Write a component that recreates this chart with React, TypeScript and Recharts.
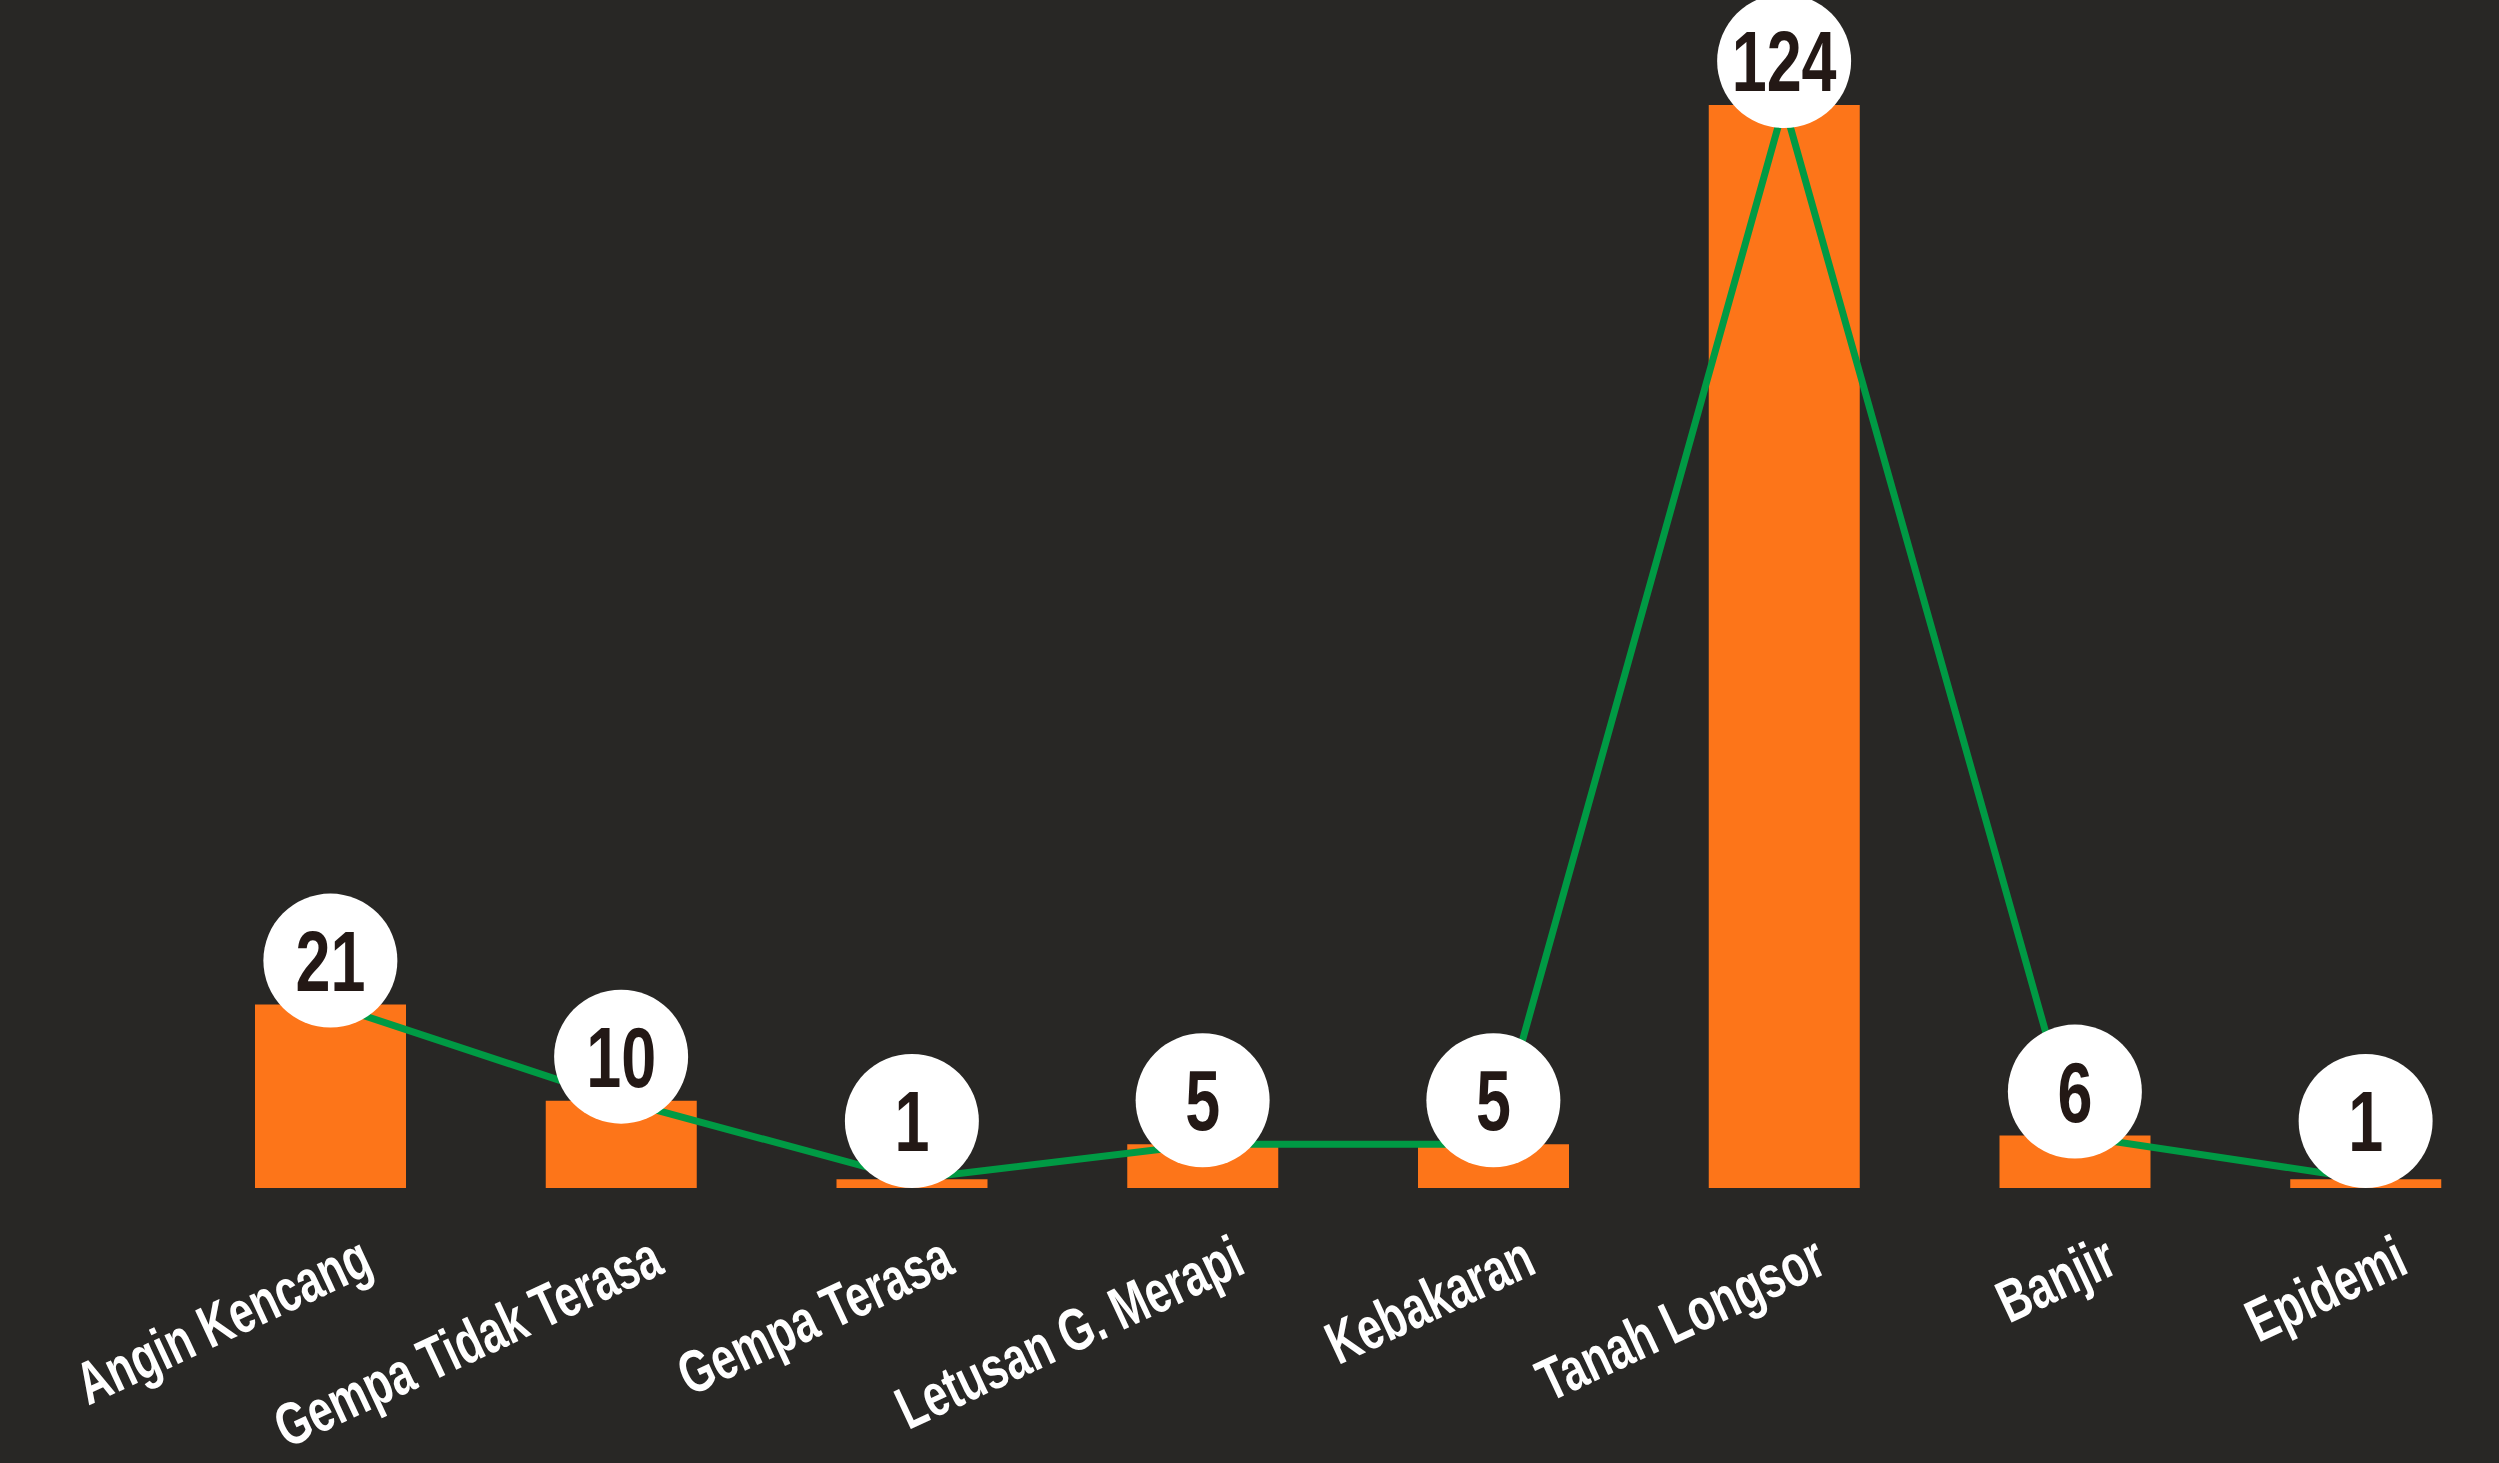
import { ComposedChart, Bar, Line, XAxis, YAxis, LabelList } from 'recharts';

const categories = [
  'Angin Kencang',
  'Gempa Tidak Terasa',
  'Gempa Terasa',
  'Letusan G. Merapi',
  'Kebakaran',
  'Tanah Longsor',
  'Banjir',
  'Epidemi',
];
const counts = [21, 10, 1, 5, 5, 124, 6, 1];

const data = categories.map((name, i) => ({ name, value: counts[i] }));

const W = 2499;
const H = 1463;
const AXIS_H = 275;
const PLOT_BOTTOM = H - AXIS_H;
const BUBBLE_R = 67;

const BG = '#282725';
const ORANGE = '#fd7519';
const GREEN = '#009a44';
// no narrow face installed, so the text is squeezed with scale()
const FONT = "'Liberation Sans', Arial, sans-serif";

function Bubble(props: any) {
  const { x, y, value } = props;
  if (x == null || y == null) return null;
  // sit above the point, but never drop below the baseline
  const cy = Math.min(y - 44, PLOT_BOTTOM - BUBBLE_R);
  return (
    <g>
      <circle cx={x} cy={cy} r={BUBBLE_R} fill="#fff" />
      <text transform={`translate(${x}, ${cy + 30}) scale(0.74, 1)`} textAnchor="middle"
        fontFamily={FONT} fontWeight={700} fontSize={85} fill="#231815">
        {value}
      </text>
    </g>
  );
}

function Tick(props: any) {
  const { x, y, payload } = props;
  const tx = x + 45;
  const ty = y + 84;
  return (
    <text transform={`translate(${tx}, ${ty}) rotate(-25) scale(0.72, 1)`} textAnchor="end"
      fontFamily={FONT} fontWeight={700} fontSize={60} fill="#fff">
      {payload.value}
    </text>
  );
}

export default function App() {
  return (
    <div style={{ position: 'fixed', left: 0, top: 0, width: W, height: H, background: BG, overflow: 'hidden' }}>
      <ComposedChart width={2520} height={H} data={data} margin={{ top: 105, right: 9, left: 185, bottom: 0 }}>
        <XAxis dataKey="name" height={AXIS_H} axisLine={false} tickLine={false} tickSize={0} tickMargin={0}
          interval={0} tick={<Tick />} />
        <YAxis hide domain={[0, 124]} />
        <Bar dataKey="value" fill={ORANGE} barSize={151} isAnimationActive={false} />
        <Line dataKey="value" type="linear" stroke={GREEN} strokeWidth={7} dot={false} isAnimationActive={false}>
          <LabelList dataKey="value" content={<Bubble />} />
        </Line>
      </ComposedChart>
    </div>
  );
}
